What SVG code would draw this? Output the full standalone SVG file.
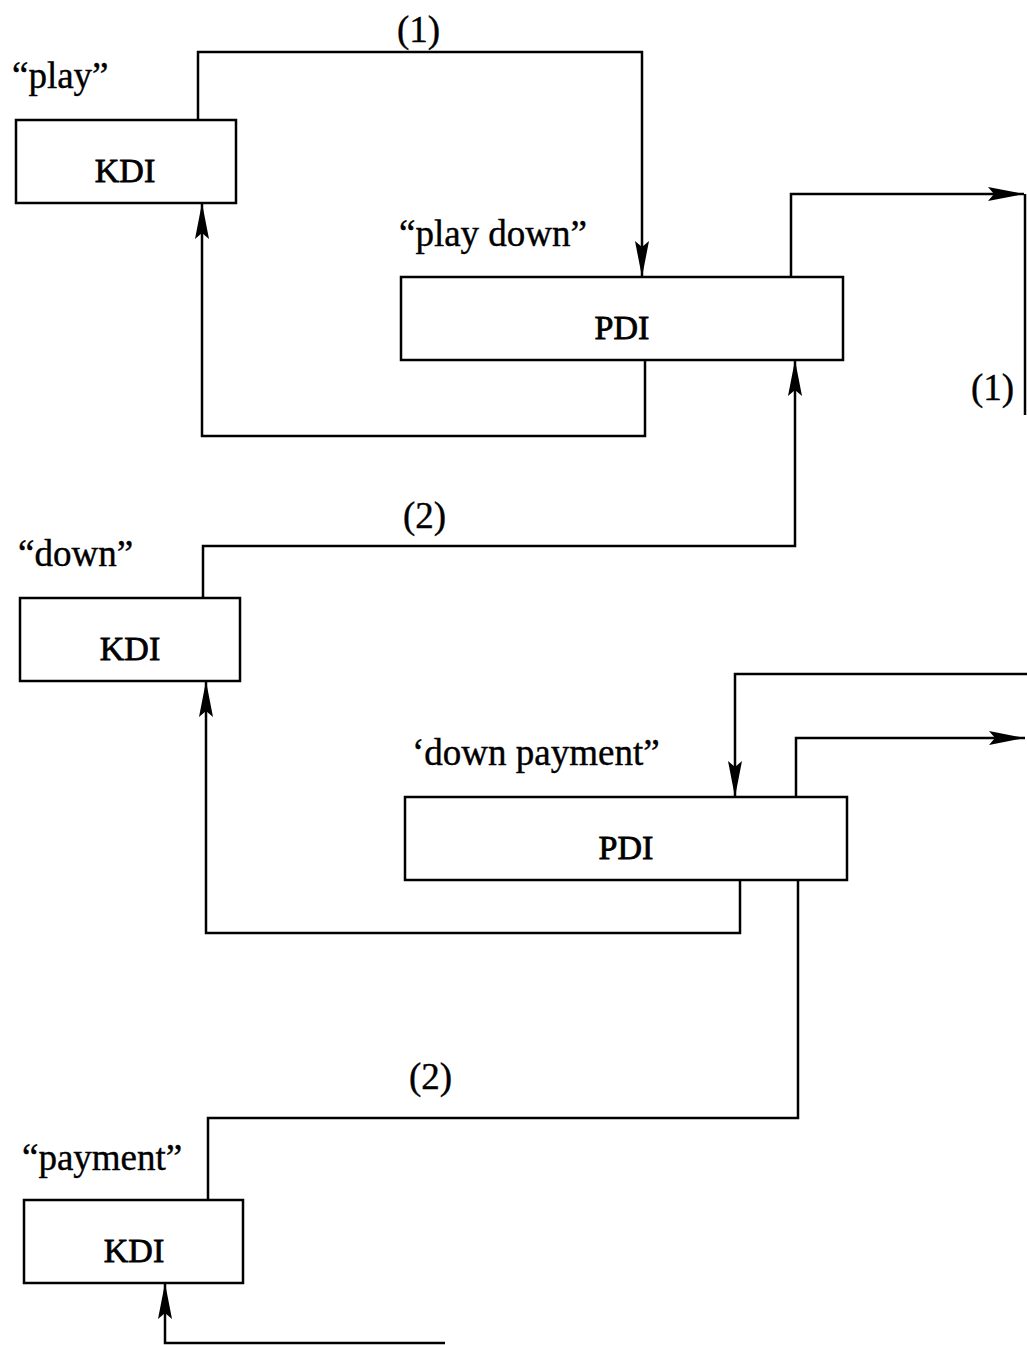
<svg xmlns="http://www.w3.org/2000/svg" width="1027" height="1345" viewBox="0 0 1027 1345">
<style>
.box{fill:#fff;stroke:#000;stroke-width:2.5}
.t{font-family:"Liberation Serif","Times New Roman",serif;font-size:37px;fill:#000;stroke:#000;stroke-width:0.4}
.b{font-size:34px;text-anchor:middle;stroke-width:0.8}
.ln{fill:none;stroke:#000;stroke-width:2.5}
</style>
<defs>
<marker id="ah" viewBox="0 0 36 14" refX="36" refY="7" markerWidth="36" markerHeight="14" markerUnits="userSpaceOnUse" orient="auto">
<path d="M0,0 L36,7 L0,14 L6,7 Z" fill="#000"/>
</marker>
</defs>
<rect width="1027" height="1345" fill="#fff"/>
<g id="connectors">
<polyline class="ln" points="198,120 198,52 642,52 642,277" marker-end="url(#ah)"/>
<polyline class="ln" points="645,360 645,436 202,436 202,203" marker-end="url(#ah)"/>
<polyline class="ln" points="791,277 791,194 1024,194" marker-end="url(#ah)"/>
<polyline class="ln" points="1025,194 1025,415"/>
<polyline class="ln" points="203,598 203,546 795,546 795,360" marker-end="url(#ah)"/>
<polyline class="ln" points="1027,674 735,674 735,797" marker-end="url(#ah)"/>
<polyline class="ln" points="796,797 796,738 1025,738" marker-end="url(#ah)"/>
<polyline class="ln" points="740,880 740,933 206,933 206,681" marker-end="url(#ah)"/>
<polyline class="ln" points="798,880 798,1118 208,1118 208,1200"/>
<polyline class="ln" points="445,1343 165,1343 165,1283" marker-end="url(#ah)"/>
<text class="t" x="397" y="42">(1)</text>
<text class="t" x="971" y="400">(1)</text>
<text class="t" x="403" y="528">(2)</text>
<text class="t" x="409" y="1089">(2)</text>
</g>
<g id="kdi-play">
<rect class="box" x="16" y="120" width="220" height="83"/>
<text class="t b" x="125" y="182">KDI</text>
<text class="t" x="12" y="88">“play”</text>
</g>
<g id="pdi-play-down">
<rect class="box" x="401" y="277" width="442" height="83"/>
<text class="t b" x="622" y="339">PDI</text>
<text class="t" x="399" y="246">“play down”</text>
</g>
<g id="kdi-down">
<rect class="box" x="20" y="598" width="220" height="83"/>
<text class="t b" x="130" y="660">KDI</text>
<text class="t" x="18" y="566">“down”</text>
</g>
<g id="pdi-down-payment">
<rect class="box" x="405" y="797" width="442" height="83"/>
<text class="t b" x="626" y="859">PDI</text>
<text class="t" x="412" y="765">‘down payment”</text>
</g>
<g id="kdi-payment">
<rect class="box" x="24" y="1200" width="219" height="83"/>
<text class="t b" x="134" y="1262">KDI</text>
<text class="t" x="22" y="1170">“payment”</text>
</g>
</svg>
